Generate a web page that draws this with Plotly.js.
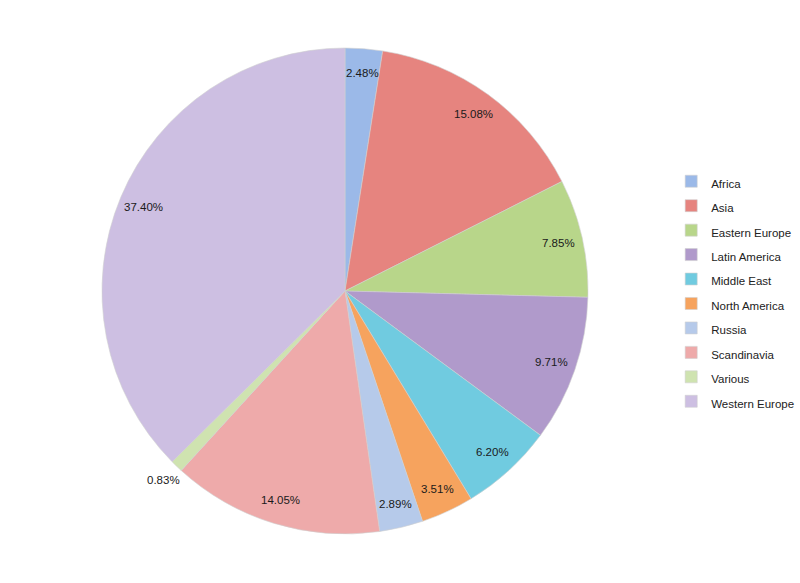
<!DOCTYPE html>
<html><head><meta charset="utf-8">
<script src="https://cdn.plot.ly/plotly-3.0.1.min.js"></script>
<style>html,body{margin:0;padding:0;background:#fff}#c{width:800px;height:583px}</style>
</head><body><div id="c"></div>
<script>
const regions = ["Africa","Asia","Eastern Europe","Latin America","Middle East","North America","Russia","Scandinavia","Various","Western Europe"];
const shares = [2.48,15.08,7.85,9.71,6.20,3.51,2.89,14.05,0.83,37.40];
const labelsText = ["2.48%","15.08%","7.85%","9.71%","6.20%","3.51%","2.89%","14.05%","0.83%","37.40%"];
const colors = ["#9bb9e8","#e6847f","#b8d68a","#b09acb","#70cbe0","#f6a35e","#b6caea","#eeaaaa","#cfe3b0","#cdbfe2"];
const outsideLabel = [false,false,false,false,false,false,false,false,true,false];

// pie geometry (pixels) used to place percentage labels near the rim
const W = 800, H = 583, CX = 345, CY = 291, R = 243;
const FONT = "Liberation Sans, Arial, sans-serif";
const total = shares.reduce((a,b)=>a+b,0);
let cum = 0;
const annotations = shares.map((v,i)=>{
  const mid = (cum + v/2)/total; cum += v;
  const ang = mid*2*Math.PI;
  const r = outsideLabel[i] ? 1.08*R : 0.9*R;
  const px = CX + r*Math.sin(ang), py = CY - r*Math.cos(ang);
  return {x:px/W, y:1-py/H, xref:"paper", yref:"paper", text:labelsText[i], showarrow:false,
          xanchor:"center", yanchor:"middle", font:{family:FONT, size:11.5, color:"#1a1a1a"}};
});

const legendNames = regions.map(n=>'<span style="font-size:11.5px">'+n+'</span>');

Plotly.newPlot("c",[{
  type:"pie",
  labels:legendNames, values:shares,
  textinfo:"none",
  sort:false, direction:"clockwise", rotation:0,
  marker:{colors:colors, line:{color:"#d0d0d0", width:0.6}},
  domain:{x:[(CX-R)/W,(CX+R)/W], y:[1-(CY+R)/H, 1-(CY-R)/H]},
  hoverinfo:"none"
}],{
  width:W, height:H,
  margin:{l:0,r:0,t:0,b:0,autoexpand:false},
  paper_bgcolor:"#fff",
  showlegend:true,
  annotations:annotations,
  legend:{x:0.839, y:1-164/H, xanchor:"left", yanchor:"top", font:{family:FONT, size:16.5, color:"#222"}, itemwidth:30}
},{displayModeBar:false});
</script></body></html>
